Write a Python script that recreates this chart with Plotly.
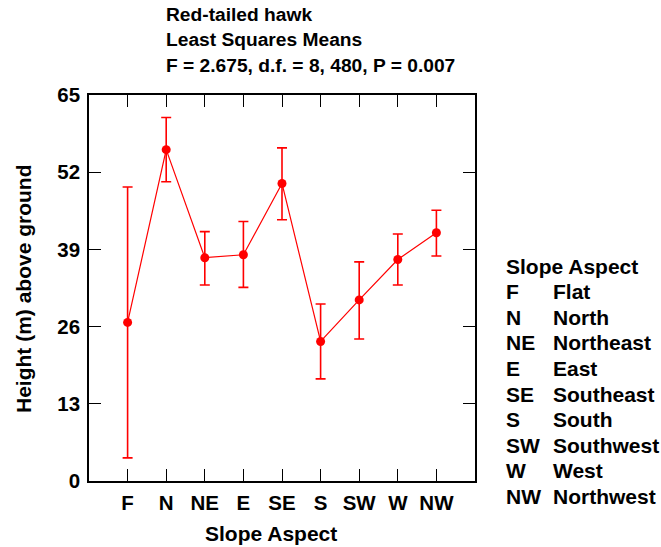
import plotly.graph_objects as go

categories = ["F", "N", "NE", "E", "SE", "S", "SW", "W", "NW"]
full_names = ["Flat", "North", "Northeast", "East", "Southeast", "South", "Southwest", "West", "Northwest"]
means = [26.7, 55.8, 37.6, 38.1, 50.1, 23.5, 30.5, 37.3, 41.8]
upper = [49.5, 61.2, 42.0, 43.7, 56.1, 29.8, 36.9, 41.6, 45.6]
lower = [3.9, 50.4, 33.0, 32.6, 44.0, 17.2, 23.9, 33.0, 37.9]
y_ticks = [0, 13, 26, 39, 52, 65]
title_lines = ["Red-tailed hawk", "Least Squares Means", "F = 2.675, d.f. = 8, 480, P = 0.007"]

xpos = list(range(1, len(categories) + 1))
err_plus = [u - m for u, m in zip(upper, means)]
err_minus = [m - l for m, l in zip(means, lower)]

FONT = "Liberation Sans, Arial, Helvetica, sans-serif"

fig = go.Figure()
fig.add_trace(go.Scatter(
    x=xpos, y=means, mode="lines+markers",
    line=dict(color="#ff0000", width=1.2),
    marker=dict(color="#ff0000", size=9),
    error_y=dict(type="data", symmetric=False, array=err_plus, arrayminus=err_minus,
                 color="#ff0000", thickness=1.6, width=5),
    showlegend=False,
))

L, R, T, B = 89, 186, 95, 66
W, H = 661, 547
pw = W - L - R
ph = H - T - B

def px_x(px):
    return (px - L) / pw

def px_y(py):
    return (H - B - py) / ph

ann = []
title_y = [14.5, 39.5, 66.0]
for txt, yy in zip(title_lines, title_y):
    ann.append(dict(text=txt, x=px_x(164), y=px_y(yy), xref="paper", yref="paper",
                    xanchor="left", yanchor="middle", showarrow=False,
                    font=dict(family=FONT, size=19.2, color="black", weight="bold")))

ann.append(dict(text="Height (m) above ground", x=px_x(23), y=px_y(289), xref="paper", yref="paper",
                xanchor="center", yanchor="middle", showarrow=False, textangle=-90,
                font=dict(family=FONT, size=21, color="black", weight="bold")))
ann.append(dict(text="Slope Aspect", x=px_x(271), y=px_y(533), xref="paper", yref="paper",
                xanchor="center", yanchor="middle", showarrow=False,
                font=dict(family=FONT, size=21, color="black", weight="bold")))

leg_y0 = 266
leg_dy = 25.6
ann.append(dict(text="Slope Aspect", x=px_x(504), y=px_y(leg_y0), xref="paper", yref="paper",
                xanchor="left", yanchor="middle", showarrow=False,
                font=dict(family=FONT, size=21, color="black", weight="bold")))
for i, (c, n) in enumerate(zip(categories, full_names)):
    yy = leg_y0 + (i + 1) * leg_dy
    ann.append(dict(text=c, x=px_x(504), y=px_y(yy), xref="paper", yref="paper",
                    xanchor="left", yanchor="middle", showarrow=False,
                    font=dict(family=FONT, size=21, color="black", weight="bold")))
    ann.append(dict(text=n, x=px_x(551), y=px_y(yy), xref="paper", yref="paper",
                    xanchor="left", yanchor="middle", showarrow=False,
                    font=dict(family=FONT, size=21, color="black", weight="bold")))

fig.update_layout(
    width=W, height=H,
    margin=dict(l=L, r=R, t=T, b=B, pad=0),
    plot_bgcolor="white", paper_bgcolor="white",
    annotations=ann,
    xaxis=dict(range=[0, 10], tickvals=xpos, ticktext=categories,
               ticks="inside", ticklen=12, tickwidth=1, tickcolor="black",
               showline=True, linecolor="black", linewidth=1.5, mirror="ticks",
               showgrid=False, zeroline=False, ticklabelstandoff=3,
               tickfont=dict(family=FONT, size=20.5, color="black", weight="bold")),
    yaxis=dict(range=[0, 65], tickvals=y_ticks,
               ticks="inside", ticklen=12, tickwidth=1, tickcolor="black",
               showline=True, linecolor="black", linewidth=1.5, mirror="ticks",
               showgrid=False, zeroline=False, ticklabelstandoff=3,
               tickfont=dict(family=FONT, size=20.5, color="black", weight="bold")),
)

fig.write_html("out.html")
